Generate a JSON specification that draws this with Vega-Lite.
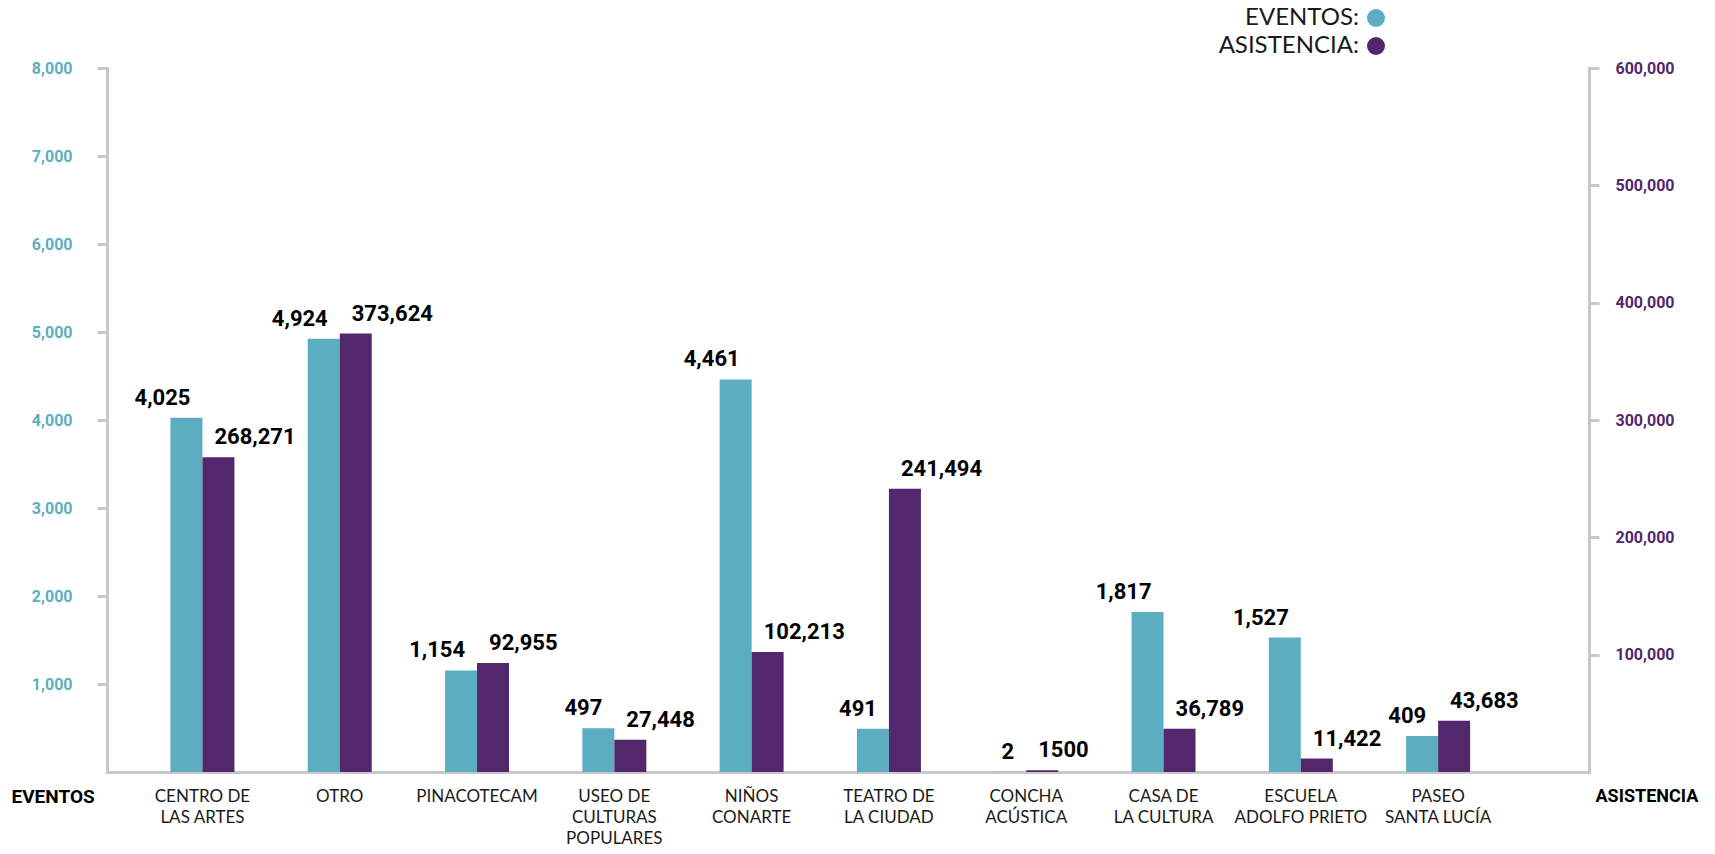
{
  "$schema": "https://vega.github.io/schema/vega-lite/v6.json",
  "width": 1482,
  "height": 704,
  "autosize": {"type": "none"},
  "padding": {"left": 107, "top": 68, "right": 126, "bottom": 82},
  "background": "#ffffff",
  "config": {
    "view": {"stroke": null},
    "font": "Roboto",
    "axis": {"grid": false, "domainColor": "#c8c8c8", "domainWidth": 3, "tickColor": "#c8c8c8", "tickWidth": 3, "domainCap": "square"},
    "legend": {
      "orient": "none", "legendX": 1257, "legendY": -62, "title": null,
      "symbolType": "circle", "symbolSize": 324, "symbolStrokeWidth": 0,
      "labelFontSize": 24, "labelFont": "Lato", "labelFontWeight": 400, "labelColor": "#1a1a1a",
      "labelAlign": "right", "labelOffset": -29, "rowPadding": 4, "padding": 0
    }
  },
  "data": {
    "values": [
      {"categoria": "CENTRO DE\nLAS ARTES", "serie": "EVENTOS", "valor": 4025, "etiqueta": "4,025"},
      {"categoria": "CENTRO DE\nLAS ARTES", "serie": "ASISTENCIA", "valor": 268271, "etiqueta": "268,271"},
      {"categoria": "OTRO", "serie": "EVENTOS", "valor": 4924, "etiqueta": "4,924"},
      {"categoria": "OTRO", "serie": "ASISTENCIA", "valor": 373624, "etiqueta": "373,624"},
      {"categoria": "PINACOTECAM", "serie": "EVENTOS", "valor": 1154, "etiqueta": "1,154"},
      {"categoria": "PINACOTECAM", "serie": "ASISTENCIA", "valor": 92955, "etiqueta": "92,955"},
      {"categoria": "USEO DE\nCULTURAS\nPOPULARES", "serie": "EVENTOS", "valor": 497, "etiqueta": "497"},
      {"categoria": "USEO DE\nCULTURAS\nPOPULARES", "serie": "ASISTENCIA", "valor": 27448, "etiqueta": "27,448"},
      {"categoria": "NIÑOS\nCONARTE", "serie": "EVENTOS", "valor": 4461, "etiqueta": "4,461"},
      {"categoria": "NIÑOS\nCONARTE", "serie": "ASISTENCIA", "valor": 102213, "etiqueta": "102,213"},
      {"categoria": "TEATRO DE\nLA CIUDAD", "serie": "EVENTOS", "valor": 491, "etiqueta": "491"},
      {"categoria": "TEATRO DE\nLA CIUDAD", "serie": "ASISTENCIA", "valor": 241494, "etiqueta": "241,494"},
      {"categoria": "CONCHA\nACÚSTICA", "serie": "EVENTOS", "valor": 2, "etiqueta": "2"},
      {"categoria": "CONCHA\nACÚSTICA", "serie": "ASISTENCIA", "valor": 1500, "etiqueta": "1500"},
      {"categoria": "CASA DE\nLA CULTURA", "serie": "EVENTOS", "valor": 1817, "etiqueta": "1,817"},
      {"categoria": "CASA DE\nLA CULTURA", "serie": "ASISTENCIA", "valor": 36789, "etiqueta": "36,789"},
      {"categoria": "ESCUELA\nADOLFO PRIETO", "serie": "EVENTOS", "valor": 1527, "etiqueta": "1,527"},
      {"categoria": "ESCUELA\nADOLFO PRIETO", "serie": "ASISTENCIA", "valor": 11422, "etiqueta": "11,422"},
      {"categoria": "PASEO\nSANTA LUCÍA", "serie": "EVENTOS", "valor": 409, "etiqueta": "409"},
      {"categoria": "PASEO\nSANTA LUCÍA", "serie": "ASISTENCIA", "valor": 43683, "etiqueta": "43,683"}
    ]
  },
  "encoding": {
    "x": {
      "field": "categoria", "type": "nominal", "sort": null,
      "scale": {"paddingInner": 0.534, "paddingOuter": 0.664, "align": 0.348},
      "axis": {
        "title": null, "ticks": false, "labelAngle": 0,
        "labelExpr": "split(datum.label, '\\n')",
        "labelFont": "Lato", "labelFontSize": 17, "labelFontWeight": 400, "labelColor": "#1a1a1a",
        "labelLineHeight": 21, "labelPadding": 16, "labelBaseline": "top", "labelLimit": 0
      }
    },
    "xOffset": {"field": "serie", "type": "nominal", "scale": {"domain": ["EVENTOS", "ASISTENCIA"], "paddingInner": 0, "paddingOuter": 0}},
    "color": {
      "field": "serie", "type": "nominal",
      "scale": {"domain": ["EVENTOS", "ASISTENCIA"], "range": ["#5CADC1", "#52276B"]},
      "legend": {"labelExpr": "datum.label + ':'"}
    }
  },
  "layer": [
    {
      "transform": [{"filter": "datum.serie === 'EVENTOS'"}],
      "encoding": {
        "y": {
          "field": "valor", "type": "quantitative",
          "scale": {"domain": [0, 8000], "nice": false},
          "axis": {
            "orient": "left", "values": [1000, 2000, 3000, 4000, 5000, 6000, 7000, 8000],
            "labelExpr": "format(datum.value, ',')",
            "tickSize": 10, "labelPadding": 25, "labelColor": "#5CADC1", "labelFontWeight": "bold", "labelFontSize": 16, "labelBaseline": "middle",
            "title": "EVENTOS", "titleAngle": 0, "titleAlign": "left", "titleBaseline": "middle",
            "titleX": -96, "titleY": 728, "titleFontSize": 19, "titleFontWeight": "bold", "titleColor": "#000000"
          }
        }
      },
      "layer": [
        {"mark": {"type": "bar"}},
        {"mark": {"type": "text", "align": "right", "baseline": "alphabetic", "dx": 4, "dy": -13, "fontSize": 22, "fontWeight": "bold", "color": "#000000"},
         "encoding": {"text": {"field": "etiqueta"}, "color": {"value": "#000000"}}}
      ]
    },
    {
      "transform": [{"filter": "datum.serie === 'ASISTENCIA'"}],
      "encoding": {
        "y": {
          "field": "valor", "type": "quantitative",
          "scale": {"domain": [0, 600000], "nice": false},
          "axis": {
            "orient": "right", "values": [100000, 200000, 300000, 400000, 500000, 600000],
            "labelExpr": "format(datum.value, ',')",
            "tickSize": 10, "labelPadding": 16, "labelColor": "#52276B", "labelFontWeight": "bold", "labelFontSize": 16, "labelBaseline": "middle",
            "title": "ASISTENCIA", "titleAngle": 0, "titleAlign": "left", "titleBaseline": "middle",
            "titleX": 6, "titleY": 728, "titleFontSize": 18, "titleFontWeight": "bold", "titleColor": "#000000"
          }
        }
      },
      "layer": [
        {"mark": {"type": "bar"}},
        {"mark": {"type": "text", "align": "left", "baseline": "alphabetic", "dx": -4, "dy": -13, "fontSize": 22, "fontWeight": "bold", "color": "#000000"},
         "encoding": {"text": {"field": "etiqueta"}, "color": {"value": "#000000"}}}
      ]
    }
  ],
  "resolve": {"scale": {"y": "independent"}}
}
